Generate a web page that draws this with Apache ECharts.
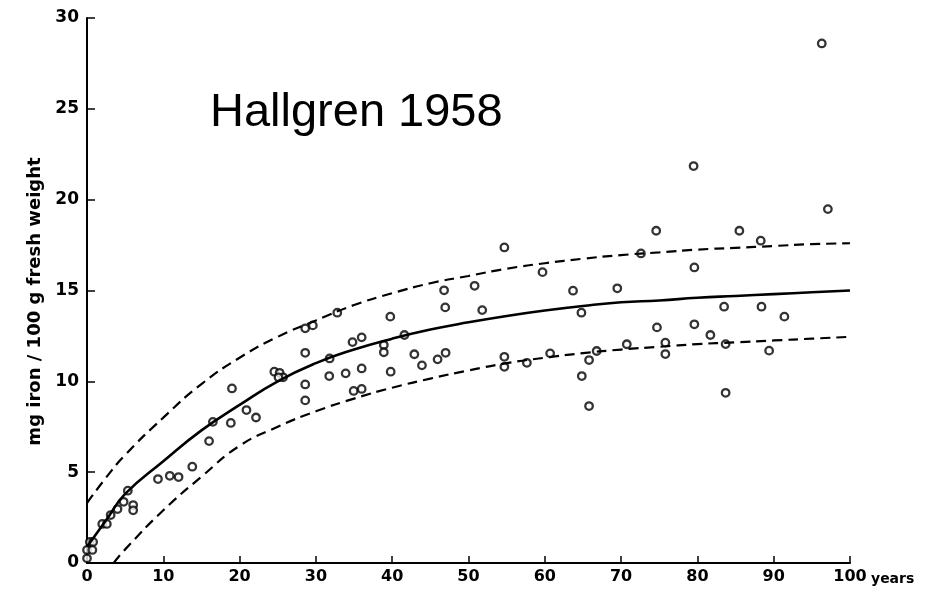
<!DOCTYPE html>
<html>
<head>
<meta charset="utf-8">
<script src="https://cdn.jsdelivr.net/npm/echarts@6/dist/echarts.min.js"></script>
<style>html,body{margin:0;padding:0;background:#fff;}#c{width:931px;height:591px;}</style>
</head>
<body>
<div id="c"></div>
<script>
// Measured points: age (years) and iron (mg / 100 g fresh weight)
const pointAges = [0.0,0.0,0.7,0.37,0.8,2.0,2.6,3.1,4.0,4.8,5.35,6.05,6.05,9.3,10.85,12.0,13.8,16.0,16.5,18.85,19.0,20.9,22.15,24.55,25.25,25.7,25.1,28.6,29.6,28.6,28.6,28.6,31.8,31.75,32.8,33.9,34.8,36.0,36.0,34.95,36.0,38.9,38.9,39.75,39.8,41.6,42.9,43.9,45.95,46.8,46.95,47.0,50.8,51.8,54.7,54.7,54.7,57.65,59.7,60.7,63.7,64.8,64.85,65.8,65.8,66.8,69.5,70.75,72.6,74.6,74.7,75.8,75.8,79.5,79.6,79.6,81.7,83.5,83.7,83.7,85.5,88.3,88.4,89.4,91.4,96.3,97.1];
const pointIron = [0.26,0.72,0.72,1.16,1.16,2.15,2.15,2.64,2.97,3.37,3.98,3.19,2.90,4.62,4.80,4.73,5.30,6.71,7.77,7.71,9.61,8.42,8.01,10.53,10.47,10.22,10.22,12.92,13.08,11.57,9.83,8.95,11.26,10.29,13.78,10.44,12.16,12.42,10.71,9.47,9.58,12.0,11.6,13.56,10.53,12.55,11.49,10.88,11.21,15.01,14.07,11.57,15.26,13.92,17.37,11.35,10.80,11.02,16.01,11.54,14.99,13.78,10.29,11.17,8.64,11.67,15.12,12.04,17.04,18.29,12.97,12.13,11.50,21.85,16.27,13.14,12.55,14.11,12.05,9.37,18.29,17.74,14.11,11.69,13.56,28.6,19.48];

// Fitted curve (solid) and limits (dashed)
const curveAges = [0,2.5,5,10,15,20,25,30,35,40,45,50,55,60,65,70,75,80,85,90,95,100];
const meanCurve = [0.9,2.35,3.8,5.6,7.3,8.7,10.0,11.0,11.75,12.35,12.85,13.25,13.6,13.9,14.15,14.35,14.45,14.6,14.7,14.8,14.9,15.0];
const upperCurve = [3.3,4.7,5.95,8.0,9.85,11.3,12.45,13.35,14.2,14.85,15.4,15.8,16.2,16.5,16.75,16.95,17.1,17.25,17.35,17.45,17.55,17.6];
const lowerAges = [3.5,5,10,15,20,25,30,35,40,45,50,55,60,65,70,75,80,85,90,95,100];
const lowerCurve = [0,0.75,2.9,4.75,6.45,7.5,8.35,9.05,9.65,10.15,10.6,11.0,11.3,11.55,11.75,11.9,12.05,12.15,12.25,12.35,12.45];

const xTicks = [0,100,10];   // min, max, interval
const yTicks = [0,30,5];
const titleText = 'Hallgren 1958';
const yName = 'mg iron / 100 g fresh weight';
const xName = 'years';

const zip = (a, b) => a.map((v, i) => [v, b[i]]);
const chart = echarts.init(document.getElementById('c'));
const labelFont = {color:'#000', fontFamily:'DejaVu Sans', fontWeight:'bold', fontSize:16};
chart.setOption({
  animation:false,
  backgroundColor:'#fff',
  title:{text:titleText, left:210, top:90, padding:0,
    textStyle:{fontFamily:'Liberation Sans', fontWeight:'normal', fontSize:47, color:'#000'}},
  grid:{left:87, right:81, top:18, bottom:28},
  xAxis:{type:'value', min:xTicks[0], max:xTicks[1], interval:xTicks[2],
    name:xName, nameLocation:'end', nameGap:21, nameMoveOverlap:false,
    nameTextStyle:Object.assign({}, labelFont, {fontSize:14, align:'left', verticalAlign:'top', padding:[9,0,0,0]}),
    axisLine:{show:true, onZero:false, lineStyle:{color:'#000', width:2}},
    axisTick:{show:true, inside:true, length:7, lineStyle:{color:'#000', width:1.5}},
    axisLabel:Object.assign({}, labelFont, {margin:6}),
    splitLine:{show:false}},
  yAxis:{type:'value', min:yTicks[0], max:yTicks[1], interval:yTicks[2],
    name:yName, nameLocation:'middle', nameGap:43, nameRotate:90, nameMoveOverlap:false,
    nameTextStyle:{color:'#000', fontFamily:'DejaVu Sans', fontWeight:'bold', fontSize:18, padding:[0,22,0,0]},
    axisLine:{show:true, lineStyle:{color:'#000', width:2}},
    axisTick:{show:true, inside:true, length:8, lineStyle:{color:'#000', width:1.5}},
    axisLabel:Object.assign({}, labelFont, {fontSize:17, margin:8}),
    splitLine:{show:false}},
  series:[
    {type:'line', data:zip(curveAges, meanCurve), smooth:true, symbol:'none',
      lineStyle:{color:'#000', width:2.6}},
    {type:'line', data:zip(curveAges, upperCurve), smooth:true, symbol:'none',
      lineStyle:{color:'#000', width:2.2, type:[10,6]}},
    {type:'line', data:zip(lowerAges, lowerCurve), smooth:true, symbol:'none',
      lineStyle:{color:'#000', width:2.2, type:[10,6]}},
    {type:'scatter', data:zip(pointAges, pointIron), symbol:'circle', symbolSize:7.5,
      itemStyle:{color:'#fff', borderColor:'#000', borderWidth:2.3}}
  ]
});
</script>
</body>
</html>
